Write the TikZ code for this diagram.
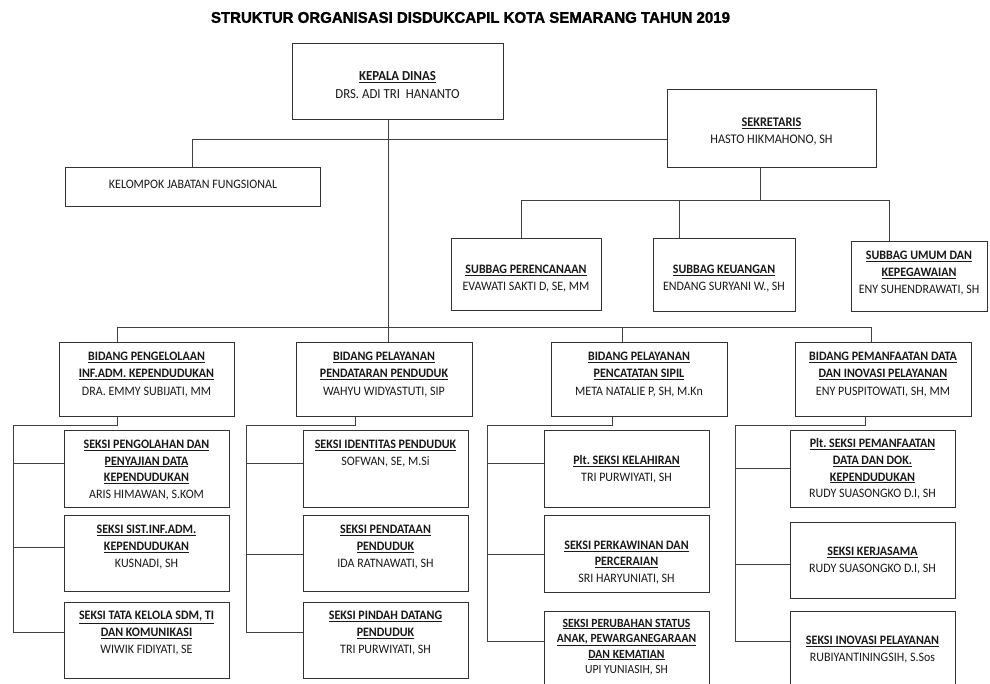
\documentclass[tikz,border=0pt]{standalone}
\usepackage{fontspec}
\usepackage{graphicx}
\setmainfont{Carlito}[FakeStretch=0.93]
\newfontfamily\titlefont{Liberation Sans Bold}[FakeBold=1.5]
\frenchspacing
\newcommand\hd[1]{\textbf{\underline{#1}}}
\newcommand\mkbox[5]{%
  \pgfmathsetmacro\bw{#4-#2}\pgfmathsetmacro\bh{#5-#3}%
  \pgfmathsetmacro\bcx{(#2+#4)/2}\pgfmathsetmacro\bcy{(#3+#5)/2}%
  \node[orgbox,minimum width=\bw pt,minimum height=\bh pt] (#1) at (\bcx,\bcy) {};}
\tikzset{
  orgbox/.style={draw=black!80, line width=1pt, rectangle, inner sep=0pt, fill=white},
  ln/.style={draw=black!75, line width=0.8pt},
  txt/.style={align=center, font=\fontsize{12.9}{16.6}\selectfont, text=black!90, inner sep=0pt},
  txtb/.style={txt, font=\fontsize{12.9}{17.5}\selectfont},
}
\begin{document}
\begin{tikzpicture}[x=1pt,y=-1pt]
\fill[white] (0,0) rectangle (990,684);
\useasboundingbox (0,0) rectangle (990,684);

% title
\node[inner sep=0pt] (title) at (470.5,17.5) {\resizebox{519pt}{10.8pt}{\titlefont STRUKTUR ORGANISASI DISDUKCAPIL KOTA SEMARANG TAHUN 2019}};

% ---------- coordinates ----------
\coordinate (kdx) at (388,0);
\coordinate (j1) at (192,139);
\coordinate (sj) at (760,200);
\coordinate (sL) at (521,200);
\coordinate (sM) at (679,200);
\coordinate (sR) at (889,200);
\coordinate (bL) at (117,327);
\coordinate (b3j) at (622,327);
\coordinate (bR) at (871,327);

% boxes
\mkbox{kd}{292}{44}{503}{120}
\mkbox{sek}{667}{90}{876}{168}
\mkbox{kjf}{65}{168}{320}{207}
\mkbox{sp}{451}{239}{601}{311}
\mkbox{sk}{653}{239}{795}{312}
\mkbox{su}{851}{242}{987}{312}
\mkbox{b1}{59}{343}{234}{416}
\mkbox{b2}{296}{343}{472}{416}
\mkbox{b3}{551}{343}{727}{416}
\mkbox{b4}{795}{343}{971}{416}
\mkbox{s11}{64}{430}{229}{507}
\mkbox{s12}{64}{515}{229}{591}
\mkbox{s13}{64}{602}{229}{678}
\mkbox{s21}{303}{430}{468}{507}
\mkbox{s22}{303}{515}{468}{591}
\mkbox{s23}{303}{602}{468}{678}
\mkbox{s31}{544}{430}{709}{507}
\mkbox{s32}{544}{515}{709}{592}
\mkbox{s33}{544}{611}{709}{720}
\mkbox{s41}{790}{430}{955}{507}
\mkbox{s42}{790}{522}{955}{598}
\mkbox{s43}{790}{611}{955}{720}

% top level connectors
\draw[ln] (kdx |- kd.south) -- (kdx |- b2.north);
\draw[ln] (sek.west |- j1) -- (j1) -- (j1 |- kjf.north);
\draw[ln] (sj |- sek.south) -- (sj);
\draw[ln] (sL |- sp.north) -- (sL) -- (sR) -- (sR |- su.north);
\draw[ln] (sM) -- (sM |- sk.north);
\draw[ln] (bL |- b1.north) -- (bL) -- (bR) -- (bR |- b4.north);
\draw[ln] (b3j) -- (b3j |- b3.north);

% column 1
\coordinate (c1a) at (117,425); \coordinate (c1b) at (13,425);
\coordinate (k11) at (13,463); \coordinate (k12) at (13,547); \coordinate (k13) at (13,632);
\draw[ln] (c1a |- b1.south) -- (c1a) -- (c1b) -- (k13);
\draw[ln] (k11) -- (k11 -| s11.west);
\draw[ln] (k12) -- (k12 -| s12.west);
\draw[ln] (k13) -- (k13 -| s13.west);
% column 2
\coordinate (c2a) at (355,425); \coordinate (c2b) at (246,425);
\coordinate (k21) at (246,463); \coordinate (k22) at (246,554); \coordinate (k23) at (246,632);
\draw[ln] (c2a |- b2.south) -- (c2a) -- (c2b) -- (k23);
\draw[ln] (k21) -- (k21 -| s21.west);
\draw[ln] (k22) -- (k22 -| s22.west);
\draw[ln] (k23) -- (k23 -| s23.west);
% column 3
\coordinate (c3a) at (612,425); \coordinate (c3b) at (487,425);
\coordinate (k31) at (487,463); \coordinate (k32) at (487,554); \coordinate (k33) at (487,641);
\draw[ln] (c3a |- b3.south) -- (c3a) -- (c3b) -- (k33);
\draw[ln] (k31) -- (k31 -| s31.west);
\draw[ln] (k32) -- (k32 -| s32.west);
\draw[ln] (k33) -- (k33 -| s33.west);
% column 4
\coordinate (c4a) at (865,425); \coordinate (c4b) at (735,425);
\coordinate (k41) at (735,468); \coordinate (k42) at (735,564); \coordinate (k43) at (735,641);
\draw[ln] (c4a |- b4.south) -- (c4a) -- (c4b) -- (k43);
\draw[ln] (k41) -- (k41 -| s41.west);
\draw[ln] (k42) -- (k42 -| s42.west);
\draw[ln] (k43) -- (k43 -| s43.west);

% ---------- texts ----------
\node[txt, font=\fontsize{13.8}{18}\selectfont] (kd-t) at (397.5,85) {\hd{KEPALA DINAS}\\DRS. ADI TRI\ \ HANANTO};
\node[txt, font=\fontsize{13.2}{17.3}\selectfont] (sek-t) at (771.5,131.5) {\hd{SEKRETARIS}\\HASTO HIKMAHONO, SH};
\node[txt] (kjf-t) at (193,184) {KELOMPOK JABATAN FUNGSIONAL};
\node[txt] (sp-t) at (526,278.5) {\hd{SUBBAG PERENCANAAN}\\EVAWATI SAKTI D, SE, MM};
\node[txt] (sk-t) at (724,278.5) {\hd{SUBBAG KEUANGAN}\\ENDANG SURYANI W., SH};
\node[txt] (su-t) at (919,273) {\hd{SUBBAG UMUM DAN}\\\hd{KEPEGAWAIAN}\\ENY SUHENDRAWATI, SH};

\node[txtb] (b1-t) at (146.5,374.5) {\hd{BIDANG PENGELOLAAN}\\\hd{INF.ADM. KEPENDUDUKAN}\\DRA. EMMY SUBIJATI, MM};
\node[txtb] (b2-t) at (384,374.5) {\hd{BIDANG PELAYANAN}\\\hd{PENDATARAN PENDUDUK}\\WAHYU WIDYASTUTI, SIP};
\node[txtb] (b3-t) at (639,374.5) {\hd{BIDANG PELAYANAN}\\\hd{PENCATATAN SIPIL}\\META NATALIE P, SH, M.Kn};
\node[txtb] (b4-t) at (883,374.5) {\hd{BIDANG PEMANFAATAN DATA}\\\hd{DAN INOVASI PELAYANAN}\\ENY PUSPITOWATI, SH, MM};

\node[txt] (s11-t) at (146.5,470) {\hd{SEKSI PENGOLAHAN DAN}\\\hd{PENYAJIAN DATA}\\\hd{KEPENDUDUKAN}\\ARIS HIMAWAN, S.KOM};
\node[txt] (s12-t) at (146.5,547) {\hd{SEKSI SIST.INF.ADM.}\\\hd{KEPENDUDUKAN}\\KUSNADI, SH};
\node[txt] (s13-t) at (146.5,633) {\hd{SEKSI TATA KELOLA SDM, TI}\\\hd{DAN KOMUNIKASI}\\WIWIK FIDIYATI, SE};

\node[txt] (s21-t) at (385.5,453.5) {\hd{SEKSI IDENTITAS PENDUDUK}\\SOFWAN, SE, M.Si};
\node[txt] (s22-t) at (385.5,547) {\hd{SEKSI PENDATAAN}\\\hd{PENDUDUK}\\IDA RATNAWATI, SH};
\node[txt] (s23-t) at (385.5,633) {\hd{SEKSI PINDAH DATANG}\\\hd{PENDUDUK}\\TRI PURWIYATI, SH};

\node[txt] (s31-t) at (626.5,469.5) {\hd{Plt. SEKSI KELAHIRAN}\\TRI PURWIYATI, SH};
\node[txt] (s32-t) at (626.5,562.5) {\hd{SEKSI PERKAWINAN DAN}\\\hd{PERCERAIAN}\\SRI HARYUNIATI, SH};
\node[txt, font=\fontsize{12.5}{15.4}\selectfont] (s33-t) at (626.5,647) {\hd{SEKSI PERUBAHAN STATUS}\\\hd{ANAK, PEWARGANEGARAAN}\\\hd{DAN KEMATIAN}\\UPI YUNIASIH, SH};

\node[txt] (s41-t) at (872.5,469) {\hd{Plt. SEKSI PEMANFAATAN}\\\hd{DATA DAN DOK.}\\\hd{KEPENDUDUKAN}\\RUDY SUASONGKO D.I, SH};
\node[txt] (s42-t) at (872.5,560.5) {\hd{SEKSI KERJASAMA}\\RUDY SUASONGKO D.I, SH};
\node[txt] (s43-t) at (872.5,649.5) {\hd{SEKSI INOVASI PELAYANAN}\\RUBIYANTININGSIH, S.Sos};
\end{tikzpicture}
\end{document}
